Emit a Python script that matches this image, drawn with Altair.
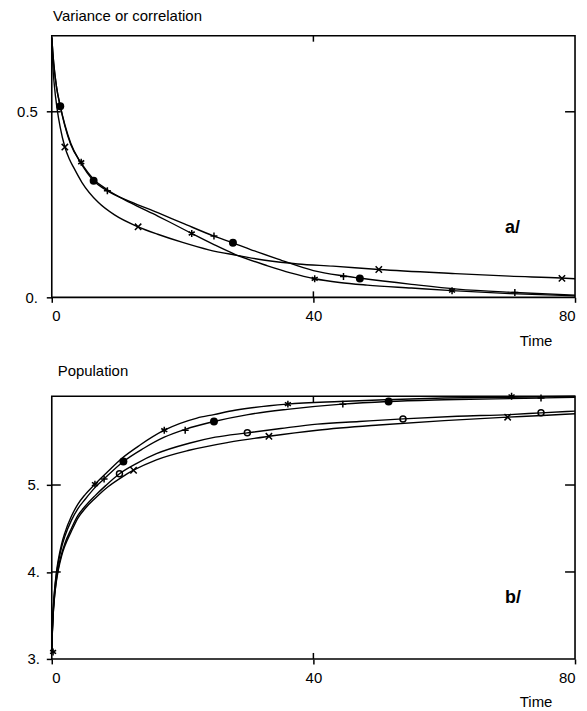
import altair as alt
import pandas as pd

# ---------------- Panel a : Variance or correlation ----------------
# curve carrying the filled-dot and plus markers
a_dot_t = [0, 0.3, 0.7, 1.3, 2.0, 2.9, 4.3, 6.4, 8.5, 12, 16.2, 20, 24.8, 27.7, 31, 34.6, 40, 44.5, 47, 55, 62, 70.8, 80]
a_dot_v = [0.70, 0.63, 0.57, 0.515, 0.465, 0.415, 0.366, 0.314, 0.287, 0.258, 0.228, 0.20, 0.165, 0.147, 0.125, 0.103, 0.072, 0.058, 0.052, 0.035, 0.022, 0.013, 0.006]
# curve carrying the star markers
a_star_t = [0, 0.3, 0.7, 1.3, 2.0, 2.9, 4.5, 6.4, 8.5, 12, 16.2, 18, 21.4, 24.8, 28, 33, 36.5, 40.2, 44, 48.2, 55, 61.2, 70, 80]
a_star_v = [0.70, 0.63, 0.57, 0.515, 0.462, 0.412, 0.362, 0.318, 0.29, 0.255, 0.219, 0.203, 0.172, 0.142, 0.116, 0.085, 0.066, 0.05, 0.04, 0.033, 0.025, 0.018, 0.01, 0.004]
# curve carrying the x markers
a_cross_t = [0, 0.15, 0.4, 0.8, 1.3, 2.0, 2.7, 3.4, 4.6, 7.1, 9.6, 13.2, 16.2, 20, 24, 28, 32.6, 37.6, 43, 50, 61.7, 70, 77.8, 80]
a_cross_v = [0.70, 0.63, 0.57, 0.51, 0.457, 0.405, 0.372, 0.348, 0.31, 0.256, 0.222, 0.19, 0.17, 0.148, 0.128, 0.114, 0.10, 0.09, 0.084, 0.075, 0.064, 0.057, 0.052, 0.05]

# markers, panel a
a_mk_dot_t = [1.3, 6.4, 27.7, 47.1]
a_mk_dot_v = [0.515, 0.314, 0.147, 0.051]
a_mk_plus_t = [8.5, 24.8, 44.6, 70.8]
a_mk_plus_v = [0.287, 0.165, 0.056, 0.013]
a_mk_star_t = [4.5, 21.4, 40.2, 61.2]
a_mk_star_v = [0.364, 0.172, 0.05, 0.018]
a_mk_cross_t = [2.0, 13.2, 50.0, 78.0]
a_mk_cross_v = [0.405, 0.19, 0.075, 0.051]

# ---------------- Panel b : Population ----------------
b_star_t = [0, 0.05, 0.1, 0.2, 0.4, 0.7, 1.0, 1.5, 2.0, 3.0, 4.0, 5.1, 6.6, 8.5, 10.6, 13.5, 17.2, 22.2, 24.8, 28, 36, 44, 51, 60, 70, 80]
b_star_v = [3.08, 3.24, 3.36, 3.54, 3.77, 3.99, 4.14, 4.32, 4.45, 4.64, 4.78, 4.89, 5.01, 5.15, 5.30, 5.46, 5.63, 5.77, 5.81, 5.86, 5.93, 5.96, 5.98, 6.0, 6.01, 6.02]
b_dot_t = [0, 0.05, 0.1, 0.2, 0.4, 0.7, 1.0, 1.5, 2.0, 3.0, 4.0, 5.1, 6.6, 8.0, 10.95, 14, 17.2, 20.4, 24.8, 30, 36, 44.4, 51.4, 60, 74.8, 80]
b_dot_v = [3.08, 3.235, 3.352, 3.526, 3.749, 3.963, 4.108, 4.283, 4.409, 4.593, 4.729, 4.836, 4.97, 5.07, 5.27, 5.42, 5.55, 5.64, 5.73, 5.81, 5.87, 5.93, 5.96, 5.98, 6.0, 6.01]
b_circ_t = [0, 0.05, 0.1, 0.2, 0.4, 0.7, 1.0, 1.5, 2.0, 3.0, 4.0, 5.1, 6.6, 8.2, 10.35, 13, 16, 21, 25, 29.9, 35, 40.6, 47, 53.7, 62, 70, 74.8, 80]
b_circ_v = [3.08, 3.226, 3.335, 3.499, 3.708, 3.908, 4.045, 4.208, 4.327, 4.50, 4.65, 4.755, 4.875, 4.99, 5.13, 5.25, 5.36, 5.48, 5.55, 5.60, 5.65, 5.70, 5.73, 5.76, 5.79, 5.81, 5.83, 5.85]
b_cross_t = [0, 0.05, 0.1, 0.2, 0.4, 0.7, 1.0, 1.5, 2.0, 3.0, 4.0, 5.1, 6.6, 8.6, 10.5, 12.5, 16, 21, 27, 33.2, 40.6, 50, 60, 69.7, 75, 80]
b_cross_v = [3.08, 3.222, 3.329, 3.49, 3.694, 3.89, 4.023, 4.184, 4.299, 4.468, 4.62, 4.73, 4.845, 4.98, 5.08, 5.17, 5.29, 5.40, 5.49, 5.56, 5.63, 5.69, 5.74, 5.78, 5.80, 5.82]

# markers, panel b
b_mk_dot_t = [10.95, 24.8, 51.5]
b_mk_dot_v = [5.27, 5.73, 5.96]
b_mk_plus_t = [8.0, 20.4, 44.5, 74.8]
b_mk_plus_v = [5.07, 5.63, 5.93, 6.0]
b_mk_star_t = [0.2, 6.6, 17.2, 36.1, 70.3]
b_mk_star_v = [3.08, 5.01, 5.63, 5.93, 6.02]
b_mk_circ_t = [10.35, 29.9, 53.7, 74.8]
b_mk_circ_v = [5.13, 5.60, 5.76, 5.83]
b_mk_cross_t = [12.5, 33.2, 69.7]
b_mk_cross_v = [5.17, 5.56, 5.78]

# ticks
x_ticks = [0, 40, 80]
a_y_ticks = [0, 0.5]
b_y_ticks = [3, 4, 5]
x_inner = [40]
a_y_inner = [0.5]
b_y_inner = [4, 5]

STAR = "M0,-1L0,1M-0.87,-0.5L0.87,0.5M-0.87,0.5L0.87,-0.5"
PLUS = "M-1,0L1,0M0,-1L0,1"
CROSS = "M-0.8,-0.8L0.8,0.8M-0.8,0.8L0.8,-0.8"

W = 526
FONT = "Liberation Sans"


def curves_df(series):
    rows = []
    for name, (ts, vs) in series.items():
        for t, v in zip(ts, vs):
            rows.append({"t": t, "v": v, "s": name})
    return pd.DataFrame(rows)


def panel(curves, markers, y_dom, y_ticks, y_inner, y_expr, y_pad, height,
          title_text, title_dx, title_dy, tag, tag_t, tag_v):
    xs = alt.Scale(domain=[0, 80], nice=False, zero=False)
    ys = alt.Scale(domain=y_dom, nice=False, zero=False)
    xa = alt.Axis(values=x_ticks, title="Time", titleX=470, titleY=48,
                  titleAlign="left", titleBaseline="alphabetic",
                  labelFlush=True, tickSize=5, labelPadding=6.5,
                  domain=False, grid=False)
    ya = alt.Axis(values=y_ticks, title=None, labelExpr=y_expr, tickSize=5.5,
                  labelPadding=y_pad, minExtent=42.7, maxExtent=42.7,
                  domain=False, grid=False)

    def X():
        return alt.X("t:Q", scale=xs, axis=xa)

    def Y():
        return alt.Y("v:Q", scale=ys, axis=ya)

    layers = [
        alt.Chart(curves_df(curves)).mark_line(
            interpolate="monotone", color="black", strokeWidth=1.4
        ).encode(x=X(), y=Y(), detail="s:N")
    ]
    for ts, vs, shape, filled, size in markers:
        df = pd.DataFrame({"t": ts, "v": vs})
        if filled:
            m = alt.Chart(df).mark_point(shape=shape, filled=True, color="black",
                                         size=size, opacity=1)
        else:
            m = alt.Chart(df).mark_point(shape=shape, filled=False, stroke="black",
                                         strokeWidth=1.5, size=size, opacity=1)
        layers.append(m.encode(x=X(), y=Y()))

    ydf = pd.DataFrame({"v": y_inner})
    xdf = pd.DataFrame({"t": x_inner})
    layers.append(alt.Chart(ydf).mark_rule(color="black", strokeWidth=1.5).encode(
        y=Y(), x=alt.value(0), x2=alt.value(9)))
    layers.append(alt.Chart(ydf).mark_rule(color="black", strokeWidth=1.5).encode(
        y=Y(), x=alt.value(W - 10), x2=alt.value(W)))
    layers.append(alt.Chart(xdf).mark_rule(color="black", strokeWidth=1.5).encode(
        x=X(), y=alt.value(0), y2=alt.value(6)))
    layers.append(alt.Chart(xdf).mark_rule(color="black", strokeWidth=1.5).encode(
        x=X(), y=alt.value(height - 6), y2=alt.value(height)))

    tdf = pd.DataFrame({"t": [tag_t], "v": [tag_v], "label": [tag]})
    layers.append(alt.Chart(tdf).mark_text(
        align="left", baseline="alphabetic", fontSize=18, fontWeight="bold",
        font=FONT, color="black"
    ).encode(x=X(), y=Y(), text="label:N"))

    # panel heading placed above the frame
    hdf = pd.DataFrame({"label": [title_text]})
    layers.append(alt.Chart(hdf).mark_text(
        align="left", baseline="alphabetic", fontSize=15, font=FONT, color="black"
    ).encode(x=alt.value(title_dx), y=alt.value(title_dy), text="label:N"))

    return alt.layer(*layers).properties(width=W, height=height)


panel_a = panel(
    {"dot": (a_dot_t, a_dot_v), "star": (a_star_t, a_star_v), "cross": (a_cross_t, a_cross_v)},
    [
        (a_mk_dot_t, a_mk_dot_v, "circle", True, 64),
        (a_mk_plus_t, a_mk_plus_v, PLUS, False, 49),
        (a_mk_star_t, a_mk_star_v, STAR, False, 49),
        (a_mk_cross_t, a_mk_cross_v, CROSS, False, 64),
    ],
    [0, 0.705], a_y_ticks, a_y_inner,
    "datum.value == 0 ? '0.' : format(datum.value, '.1f')", 9, 263,
    "Variance or correlation", 1.3, -15, "a/", 69.3, 0.174,
)

panel_b = panel(
    {"star": (b_star_t, b_star_v), "dot": (b_dot_t, b_dot_v),
     "circ": (b_circ_t, b_circ_v), "cross": (b_cross_t, b_cross_v)},
    [
        (b_mk_dot_t, b_mk_dot_v, "circle", True, 64),
        (b_mk_plus_t, b_mk_plus_v, PLUS, False, 49),
        (b_mk_star_t, b_mk_star_v, STAR, False, 49),
        (b_mk_circ_t, b_mk_circ_v, "circle", False, 36),
        (b_mk_cross_t, b_mk_cross_v, CROSS, False, 64),
    ],
    [3, 6.02], b_y_ticks, b_y_inner,
    "datum.value + '.'", 7, 264,
    "Population", 6, -20, "b/", 69.3, 3.648,
)

chart = alt.vconcat(panel_a, panel_b, spacing=14.5).properties(
    padding={"left": 0, "top": -2, "right": 0, "bottom": 0}
).configure(font=FONT).configure_view(
    stroke="black", strokeWidth=1.6
).configure_axis(
    labelFont=FONT, labelFontSize=15, labelColor="black",
    tickColor="black", tickWidth=1.5,
    titleFont=FONT, titleFontSize=15, titleFontWeight="normal", titleColor="black",
)

chart.save("out.html", embed_options={"renderer": "svg", "actions": False})
